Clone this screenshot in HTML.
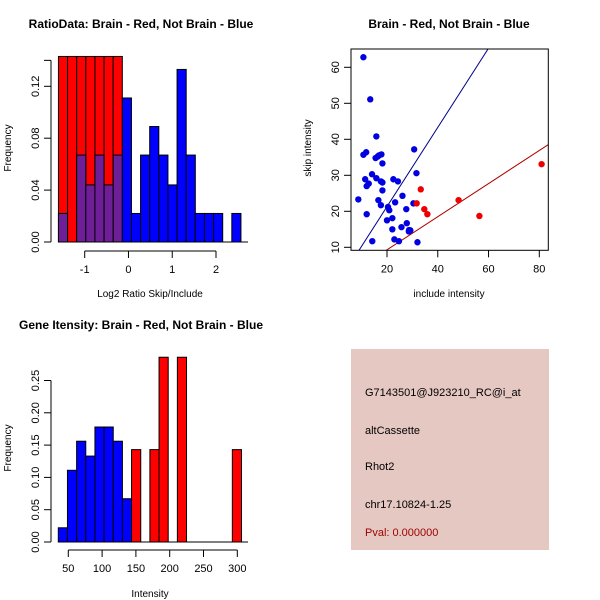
<!DOCTYPE html>
<html><head><meta charset="utf-8"><style>
body{margin:0;background:#fff}
svg{display:block;font-family:"Liberation Sans",sans-serif}
</style></head><body>
<svg id="s" width="600" height="600" xmlns="http://www.w3.org/2000/svg">
<rect x="0" y="0" width="600" height="600" fill="#fff"/>
<text x="141" y="28" font-size="12" font-weight="bold" text-anchor="middle">RatioData: Brain - Red, Not Brain - Blue</text>
<text x="449" y="28" font-size="12" font-weight="bold" text-anchor="middle">Brain - Red, Not Brain - Blue</text>
<text x="141" y="329" font-size="12" font-weight="bold" text-anchor="middle">Gene Itensity: Brain - Red, Not Brain - Blue</text>
<g id="p1"></g>
<g id="p2"></g>
<g id="p3"></g>
<g>
<rect x="351" y="349" width="198" height="201" fill="#e6c8c2"/>
<text x="365" y="396" font-size="11">G7143501@J923210_RC@i_at</text>
<text x="365" y="434" font-size="11">altCassette</text>
<text x="365" y="470" font-size="11">Rhot2</text>
<text x="365" y="508" font-size="11">chr17.10824-1.25</text>
<text x="365" y="536" font-size="11" fill="#9b0000">Pval: 0.000000</text>
</g>
</svg>
<script>
// Ratio histogram data
const ratioStart=-1.6, ratioBin=0.2085;
const ratioRed=[0.143,0.143,0.143,0.143,0.143,0.143,0.143];
const ratioBlue=[0.022,0,0.067,0.044,0.067,0.044,0.067,0.111,0.022,0.067,0.089,0.067,0.044,0.133,0.067,0.022,0.022,0.022,0,0.022];
const ratioXTicks=[-1,0,1,2];
const ratioYTicks=[0,0.04,0.08,0.12];
// Scatter data
const blueX=[10.7,13.4,15.8,10.7,11.8,15.5,16.3,16.8,17.8,18.2,30.7,14.1,11.4,15.8,17.6,18.2,22.5,24.3,31.6,12.8,12.0,18.2,26.1,8.7,16.6,17.6,23.2,30.4,20.4,20.9,27.6,12.0,20.0,22.1,27.8,25.7,22.1,28.7,29.2,28.6,22.9,24.7,14.2,32.0];
const blueY=[62.8,51.1,40.8,35.7,36.4,34.8,35.2,35.5,35.8,33.3,37.2,30.3,28.9,29.2,28.3,28.0,28.9,28.3,30.6,27.7,27.0,25.8,24.3,23.3,23.1,21.7,22.5,22.2,21.2,20.3,20.6,19.2,17.5,18.1,16.7,15.6,15.0,14.8,14.7,14.4,12.2,11.7,11.7,11.4];
const redX=[31.7,33.3,34.7,35.9,48.2,56.4,80.9];
const redY=[22.2,26.1,20.6,19.2,23.1,18.7,33.1];
const blueLine=[1.1,-0.7];
const redLine=[0.46,0.1];
const scXTicks=[20,40,60,80];
const scYTicks=[10,20,30,40,50,60];
// Intensity histogram data
const intStart=35.2, intBin=13.55;
const intBlue=[0.022,0.111,0.156,0.133,0.178,0.178,0.156,0.067];
const intRed=[0,0,0,0,0,0,0,0,0.143,0,0.143,0.286,0,0.286,0,0,0,0,0,0.143];
const intXTicks=[50,100,150,200,250,300];
const intYTicks=[0,0.05,0.10,0.15,0.20,0.25];

const NS="http://www.w3.org/2000/svg";
function mk(parent,tag,attrs,txt){const e=document.createElementNS(NS,tag);for(const k in attrs)e.setAttribute(k,attrs[k]);if(txt!==undefined)e.textContent=txt;parent.appendChild(e);return e;}
function lin(d0,d1,p0,p1){return v=>p0+(v-d0)*(p1-p0)/(d1-d0);}
function fmt(v,d){return v.toFixed(d);}

function histPanel(g,cfg){
  const sx=cfg.sx, sy=cfg.sy;
  cfg.layers.forEach(L=>{
    L.vals.forEach((v,i)=>{
      if(L.skipZero && v===0) return;
      const x0=sx(cfg.start+i*cfg.bin), x1=sx(cfg.start+(i+1)*cfg.bin);
      const r=mk(g,'rect',{x:x0,y:sy(v),width:x1-x0,height:sy(0)-sy(v),fill:L.fill,stroke:'#000','stroke-width':1});
      
      
    });
  });
  mk(g,'line',{x1:cfg.baseX0,x2:cfg.baseX1,y1:sy(0),y2:sy(0),stroke:'#000'});
  // x axis
  const ay=cfg.axisY;
  const xa=mk(g,'g',{});
  
  
  mk(xa,'line',{x1:sx(cfg.xt[0]),x2:sx(cfg.xt[cfg.xt.length-1]),y1:ay,y2:ay,stroke:'#000'});
  cfg.xt.forEach(t=>{mk(xa,'line',{x1:sx(t),x2:sx(t),y1:ay,y2:ay+7,stroke:'#000'});
    mk(xa,'text',{x:sx(t),y:ay+22,'font-size':11,'text-anchor':'middle'},String(t));});
  const ya=mk(g,'g',{});
  
  
  const ax=cfg.axisX;
  mk(ya,'line',{x1:ax,x2:ax,y1:sy(cfg.yt[0]),y2:sy(cfg.yTop),stroke:'#000'});
  cfg.yt.forEach(t=>{mk(ya,'line',{x1:ax,x2:ax-7,y1:sy(t),y2:sy(t),stroke:'#000'});
    mk(ya,'text',{x:0,y:0,'font-size':11,'text-anchor':'middle',transform:`translate(${ax-12},${sy(t)}) rotate(-90)`},fmt(t,2));});
  if(cfg.yTop>cfg.yt[cfg.yt.length-1]) mk(ya,'line',{x1:ax,x2:ax-7,y1:sy(cfg.yTop),y2:sy(cfg.yTop),stroke:'#000'});
  const xl=mk(g,'text',{x:cfg.xlx,y:cfg.xly,'font-size':10,'text-anchor':'middle'},cfg.xlabel);
  
  
  const yl=mk(g,'text',{x:0,y:0,'font-size':10,'text-anchor':'middle',transform:`translate(11,${cfg.yly}) rotate(-90)`},'Frequency');
  
  
}

// Panel 1
histPanel(document.getElementById('p1'),{
  prefix:'ratio', sx:lin(-1,2,84.7,216), sy:lin(0,0.04,242,190.1),
  start:ratioStart, bin:ratioBin,
  layers:[{vals:ratioRed,fill:'#ff0000',name:'brain-ratio',skipZero:false},
          {vals:ratioBlue.map((v,i)=>i<7?v:0),fill:'#6e1e96',name:'overlap-ratio',skipZero:true},
          {vals:ratioBlue.map((v,i)=>i>=7?v:0),fill:'#0000ff',name:'not-brain-ratio',skipZero:true}],
  baseX0:58, baseX1:248, axisY:251, axisX:51, xt:ratioXTicks, yt:ratioYTicks, yTop:0.14,
  xlabel:'Log2 Ratio Skip/Include', xlx:150, xly:297, yly:148
});
// Panel 3
histPanel(document.getElementById('p3'),{
  prefix:'intensity', sx:lin(50,300,68.3,237.3), sy:lin(0,0.05,542,509.7),
  start:intStart, bin:intBin,
  layers:[{vals:intBlue,fill:'#0000ff',name:'not-brain-intensity',skipZero:true},
          {vals:intRed,fill:'#ff0000',name:'brain-intensity',skipZero:true}],
  baseX0:58, baseX1:248, axisY:550, axisX:51, xt:intXTicks, yt:intYTicks, yTop:0.25,
  xlabel:'Intensity', xlx:150, xly:597, yly:448
});

// Panel 2 scatter
(function(){
  const g=document.getElementById('p2');
  const sx=lin(20,80,387,539.3), sy=lin(10,60,247.3,67.3);
  const L=351,R=548.3,T=49,B=250.3;
  mk(g,'defs',{}).innerHTML='<clipPath id="cp"><rect x="351" y="49" width="197.3" height="201.3"/></clipPath>';
  const xmin=5.8,xmax=83.5;
  [[blueLine,'#00008b','blue-fit-line'],[redLine,'#b00000','red-fit-line']].forEach(([ab,c,n])=>{
    const l=mk(g,'line',{x1:sx(xmin),y1:sy(ab[0]*xmin+ab[1]),x2:sx(xmax),y2:sy(ab[0]*xmax+ab[1]),stroke:c,'clip-path':'url(#cp)'});
    
    
  });
  blueX.forEach((x,i)=>{const c=mk(g,'circle',{cx:sx(x),cy:sy(blueY[i]),r:3.2,fill:'#0000e0'});
    
    });
  redX.forEach((x,i)=>{const c=mk(g,'circle',{cx:sx(x),cy:sy(redY[i]),r:3.2,fill:'#ee0000'});
    
    });
  const f=mk(g,'rect',{x:L,y:T,width:R-L,height:B-T,fill:'none',stroke:'#000'});
  
  
  scXTicks.forEach(t=>{mk(g,'line',{x1:sx(t),x2:sx(t),y1:B,y2:B+7,stroke:'#000'});
    mk(g,'text',{x:sx(t),y:B+22,'font-size':11,'text-anchor':'middle'},String(t));});
  scYTicks.forEach(t=>{mk(g,'line',{x1:L,x2:L-7,y1:sy(t),y2:sy(t),stroke:'#000'});
    mk(g,'text',{x:0,y:0,'font-size':11,'text-anchor':'middle',transform:`translate(${L-12},${sy(t)}) rotate(-90)`},String(t));});
  const xl=mk(g,'text',{x:449,y:297,'font-size':10,'text-anchor':'middle'},'include intensity');
  
  
  const yl=mk(g,'text',{x:0,y:0,'font-size':10,'text-anchor':'middle',transform:'translate(311,148) rotate(-90)'},'skip intensity');
  
  
})();
</script>
</body></html>
